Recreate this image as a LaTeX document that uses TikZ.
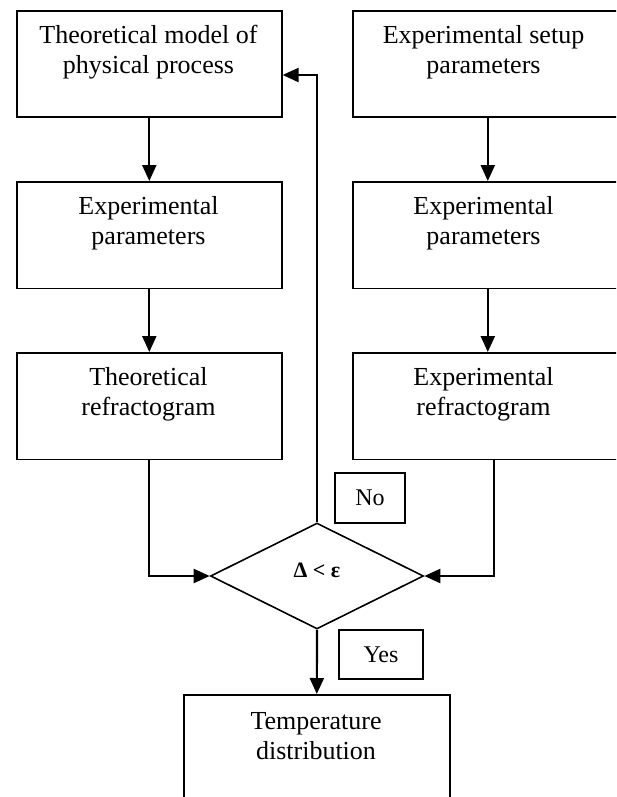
\documentclass[tikz,border=0pt]{standalone}
\usepackage{fontspec}
\setmainfont{Liberation Serif}
\usetikzlibrary{arrows.meta,shapes.geometric}
\tikzset{
  box/.style={draw, line width=1.6pt, inner sep=0pt, anchor=north west, minimum height=106.5pt},
  lbl/.style={font=\fontsize{26}{30}\selectfont, align=center, inner sep=0pt, anchor=north},
  tag/.style={draw, line width=1.6pt, inner sep=0pt, font=\fontsize{24}{28}\selectfont},
  flow/.style={line width=2.2pt, -{Triangle[length=16pt,width=14pt]}},
  dec/.style={draw, diamond, line width=1.6pt, inner sep=0pt, minimum width=213pt, minimum height=106pt}
}
\begin{document}
\begin{tikzpicture}[x=1pt,y=1pt]
\useasboundingbox (0,0) rectangle (616,-797);
\fill[white] (0,0) rectangle (616,-797);
\clip (0,0) rectangle (616,-797);
% left column
\node[box, minimum width=265pt] (L1) at (16,-10) {};
\node[box, minimum width=265pt] (L2) at (16,-181) {};
\node[box, minimum width=265pt] (L3) at (16,-352) {};
\node[lbl] (tL1) at (148.5,-22) {\strut Theoretical model of\\physical process};
\node[lbl] (tL2) at (148.5,-193) {\strut Experimental\\parameters};
\node[lbl] (tL3) at (148.5,-364) {\strut Theoretical\\refractogram};
% right column
\node[box, minimum width=266pt] (R1) at (352,-10) {};
\node[box, minimum width=266pt] (R2) at (352,-181) {};
\node[box, minimum width=266pt] (R3) at (352,-352) {};
\node[lbl] (tR1) at (483.5,-22) {\strut Experimental setup\\parameters};
\node[lbl] (tR2) at (483.5,-193) {\strut Experimental\\parameters};
\node[lbl] (tR3) at (483.5,-364) {\strut Experimental\\refractogram};
% decision
\node[dec] (dia) at (317,-576) {};
\node[font=\fontsize{22}{26}\selectfont\bfseries, inner sep=0pt, anchor=base] (cond) at (317,-577) {Δ < ε};
% tags
\node[tag, minimum width=70pt, minimum height=50pt] (no) at (370,-498) {No};
\node[tag, minimum width=84pt, minimum height=49pt] (yes) at (381,-654.5) {Yes};
% result
\node[box, minimum width=266pt, minimum height=130pt] (B) at (183,-694) {};
\node[lbl] (tB) at (316,-708) {\strut Temperature\\distribution};
% connectors
\coordinate (fb) at (317,-75);
\draw[flow] (L1.south) -- (L2.north);
\draw[flow] (L2.south) -- (L3.north);
\draw[flow] ([xshift=2pt]R1.south) -- ([xshift=2pt]R2.north);
\draw[flow] ([xshift=2pt]R2.south) -- ([xshift=2pt]R3.north);
\draw[flow] (L3.south) |- (dia.west);
\draw[flow] ([xshift=8pt]R3.south) |- (dia.east);
\draw[flow] (dia.north) -- (fb) -- (fb -| L1.east);
\draw[flow] (dia.south) -- (B.north);
\end{tikzpicture}
\end{document}
